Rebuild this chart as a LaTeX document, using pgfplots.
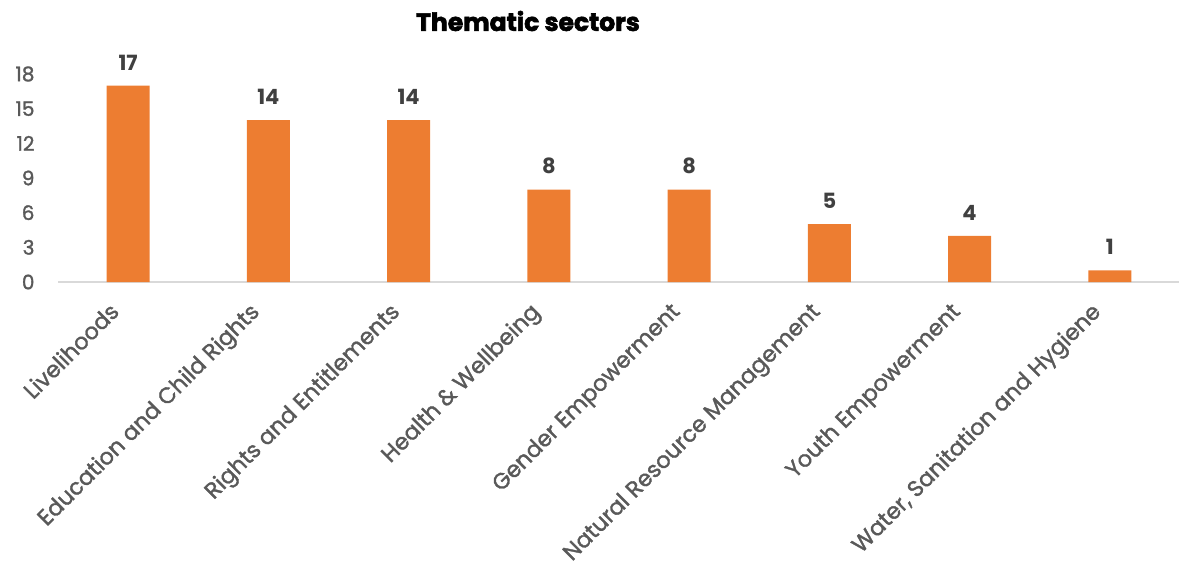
\documentclass[border=0pt]{standalone}
\usepackage{fontspec}
\setmainfont{Poppins}
\newfontfamily\medfont{Poppins}[FakeBold=1.5]
\newfontfamily\titlefont{Poppins}[BoldFeatures={FakeBold=2.5}]
\usepackage{pgfplots}
\pgfplotsset{compat=1.18}
\definecolor{barc}{HTML}{ED7D31}
\definecolor{tickc}{HTML}{595959}
\definecolor{labc}{HTML}{404040}
\definecolor{axc}{HTML}{D9D9D9}
\begin{document}
\begin{tikzpicture}[x=1pt,y=1pt]
\useasboundingbox (0,0) rectangle (1179,576);
\begin{axis}[
  at={(58pt,294pt)}, anchor=south west,
  scale only axis, width=1122pt, height=208pt,
  xmin=-0.5, xmax=7.5, ymin=0, ymax=18,
  clip=false,
  ybar, bar width=43pt,
  axis x line*=bottom, axis y line*=left,
  y axis line style={draw=none},
  x axis line style={draw=axc, line width=1.5pt},
  major tick length=0pt,
  ytick={0,3,...,18},
  xtick={0,...,7},
  xticklabels={Livelihoods,Education and Child Rights,Rights and Entitlements,Health \& Wellbeing,Gender Empowerment,Natural Resource Management,Youth Empowerment,{Water, Sanitation and Hygiene}},
  /pgf/number format/assume math mode=true,
  yticklabel style={font=\medfont\fontsize{20}{24}\selectfont, text=tickc, anchor=east, xshift=-20pt},
  xticklabel style={xshift=-20pt, yshift=-14pt, font=\medfont\fontsize{22.5}{26}\selectfont, text=tickc, rotate=45, anchor=north east},
  nodes near coords,
  every node near coord/.append style={font=\bfseries\fontsize{21}{25}\selectfont, text=labc, anchor=south, yshift=12pt},
]
\addplot[fill=barc, draw=none] coordinates {(0,17) (1,14) (2,14) (3,8) (4,8) (5,5) (6,4) (7,1)};
\end{axis}
\node[font=\titlefont\bfseries\fontsize{25}{30}\selectfont] at (528,555) {Thematic sectors};
\end{tikzpicture}
\end{document}
